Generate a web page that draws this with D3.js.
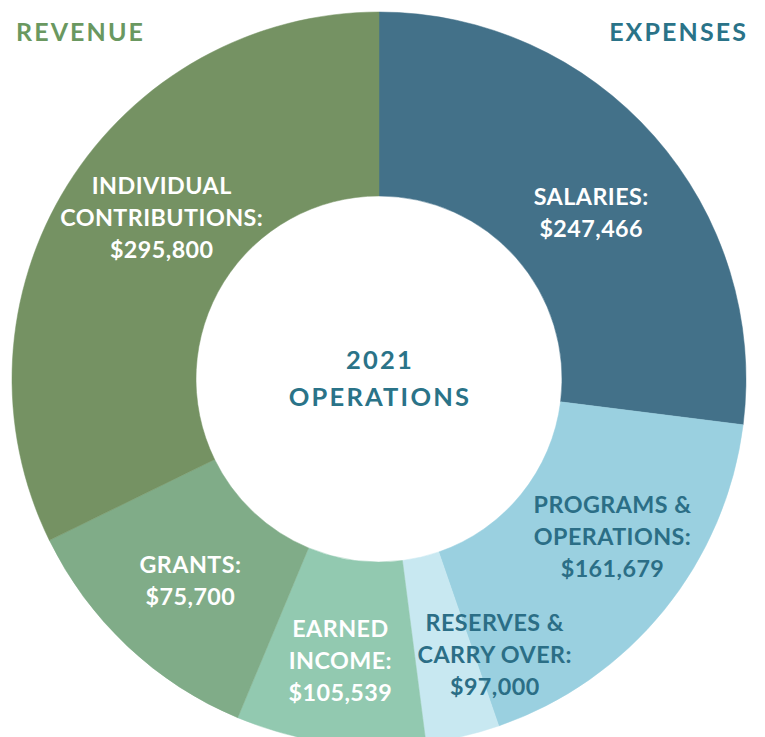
<!DOCTYPE html>
<html>
<head>
<meta charset="utf-8">
<script src="https://cdn.jsdelivr.net/npm/d3@7"></script>
<style>
  html, body { margin: 0; padding: 0; background: #ffffff; }
  svg { display: block; }
</style>
</head>
<body>
<svg id="chart" width="765" height="737"></svg>
<script>
// ---- Data ----
const categories = ["Salaries", "Programs & Operations", "Reserves & Carry Over", "Earned Income", "Grants", "Individual Contributions"];
const groups = ["Expenses", "Expenses", "Expenses", "Revenue", "Revenue", "Revenue"];
const amounts = [247466, 161679, 97000, 105539, 75700, 295800];
// share of the ring each slice occupies in the picture (degrees of arc, as drawn)
const sliceShares = [97.2, 63.8, 11.7, 30.0, 41.3, 116.1];
const labelLines = [
  ["SALARIES:"],
  ["PROGRAMS &", "OPERATIONS:"],
  ["RESERVES &", "CARRY OVER:"],
  ["EARNED", "INCOME:"],
  ["GRANTS:"],
  ["INDIVIDUAL", "CONTRIBUTIONS:"]
];
const headings = ["REVENUE", "EXPENSES"];
const centerTitle = ["2021", "OPERATIONS"];

// ---- Styles / layout ----
const fills = ["#437189", "#9AD0E0", "#C8E8F1", "#92C9B0", "#80AC88", "#759263"];
const labelColors = ["#ffffff", "#2B6E86", "#2B6E86", "#ffffff", "#ffffff", "#ffffff"];
// label block offset from slice centroid (layout only)
const labelOffsets = [[6, 16], [20, -16], [53, 8], [-2, 9], [0, 2], [16, -16]];
const W = 765, H = 737;
const cx = 379, cy = 379, rOuter = 367, rInner = 183;
const fontFam = "Lato, 'Open Sans', sans-serif";
const lineH = 32;

const svg = d3.select("#chart");
const g = svg.append("g").attr("transform", `translate(${cx},${cy})`);

const pie = d3.pie().sort(null).value((d, i) => sliceShares[i]).startAngle(0).endAngle(2 * Math.PI);
const arcs = pie(categories);
const arc = d3.arc().innerRadius(rInner).outerRadius(rOuter);
const labelArc = d3.arc().innerRadius(275).outerRadius(275);

g.selectAll("path.slice")
  .data(arcs)
  .join("path")
  .attr("class", "slice")
  .attr("d", arc)
  .attr("fill", (d, i) => fills[i])
  .attr("stroke", (d, i) => fills[i])
  .attr("stroke-width", 0.5);

const fmt = d3.format("$,");

arcs.forEach((a, i) => {
  const [x0, y0] = labelArc.centroid(a);
  const x = x0 + labelOffsets[i][0];
  const y = y0 + labelOffsets[i][1];
  const lines = labelLines[i].concat([fmt(amounts[i])]);
  const n = lines.length;
  const t = g.append("text")
    .attr("text-anchor", "middle")
    .attr("font-family", fontFam)
    .attr("font-weight", 700)
    .attr("font-size", 23.3)
    .attr("letter-spacing", 0.45)
    .attr("fill", labelColors[i]);
  lines.forEach((ln, k) => {
    t.append("tspan")
      .attr("x", x)
      .attr("y", y + (k - (n - 1) / 2) * lineH + 8.3)
      .text(ln);
  });
});

// center title
const ct = g.append("text")
  .attr("text-anchor", "middle")
  .attr("font-family", fontFam)
  .attr("font-weight", 700)
  .attr("font-size", 25.5)
  .attr("letter-spacing", 2.2)
  .attr("fill", "#2A7388");
ct.append("tspan").attr("x", 1).attr("y", -10).text(centerTitle[0]);
ct.append("tspan").attr("x", 1).attr("y", 27).text(centerTitle[1]);

// headings
svg.append("text")
  .attr("x", 16).attr("y", 41)
  .attr("font-family", fontFam).attr("font-weight", 700)
  .attr("font-size", 25).attr("letter-spacing", 2.1)
  .attr("fill", "#6A9860")
  .text(headings[0]);
svg.append("text")
  .attr("x", 748).attr("y", 41)
  .attr("text-anchor", "end")
  .attr("font-family", fontFam).attr("font-weight", 700)
  .attr("font-size", 25).attr("letter-spacing", 2.1)
  .attr("fill", "#2A7388")
  .text(headings[1]);
</script>
</body>
</html>
